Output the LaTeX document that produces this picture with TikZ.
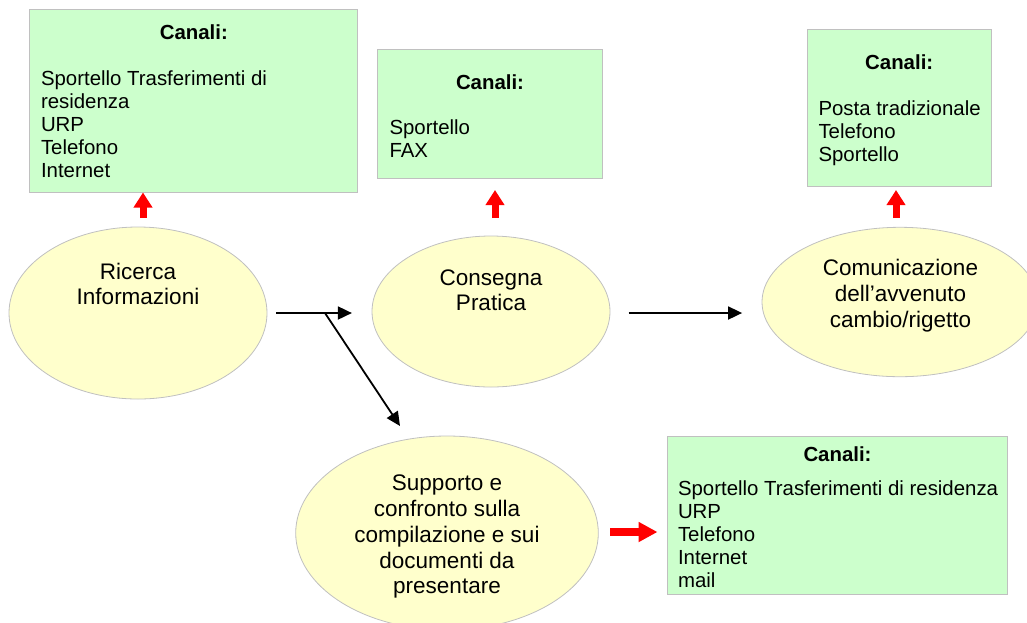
\documentclass[tikz,border=0pt]{standalone}
\usepackage{fontspec}
\setmainfont{Liberation Sans}
\usetikzlibrary{arrows.meta,shapes.geometric,calc}

\definecolor{boxgreen}{HTML}{CCFFCC}
\definecolor{phasefill}{HTML}{FFFFCC}
\definecolor{edgegray}{HTML}{C0C0C0}
\definecolor{flowred}{HTML}{FF0000}

% multi-line nodes are placed by the baseline of their last line
\tikzset{
  canalebox/.style={draw=edgegray, line width=1pt, fill=boxgreen, rectangle, inner sep=0pt},
  phase/.style={draw=edgegray, line width=0.8pt, fill=phasefill, ellipse, inner sep=0pt},
  phasetext/.style={anchor=base, align=center, inner sep=0pt,
    font=\fontsize{22.5}{25.7}\selectfont},
  boxtitle/.style={anchor=base, inner sep=0pt, font=\fontsize{20.4}{23}\selectfont\bfseries},
  boxlines/.style={anchor=base west, align=left, inner sep=0pt,
    font=\fontsize{20.4}{23}\selectfont},
  flow/.style={draw=black, line width=1.8pt, -{Triangle[length=14pt,width=13pt]}},
  redup/.style={draw=flowred, line width=7pt, -{Triangle[length=15pt,width=18pt]}},
  redright/.style={draw=flowred, line width=8pt, -{Triangle[length=19pt,width=19pt]}},
}

\begin{document}
\begin{tikzpicture}[x=1pt, y=-1pt]
\useasboundingbox (0,0) rectangle (1027,622);
\clip (0,0) rectangle (1027,622);

% channel boxes
\node[canalebox, minimum width=327.7pt, minimum height=183.3pt] (b1) at (193.8,100.7) {};
\node[canalebox, minimum width=225.4pt, minimum height=129.4pt] (b2) at (490,114) {};
\node[canalebox, minimum width=183.7pt, minimum height=157.4pt] (b3) at (899.2,108) {};
\node[canalebox, minimum width=340.4pt, minimum height=157.3pt] (b4) at (837.5,515.4) {};

\node[boxtitle] (t1) at (193.8,39) {Canali:};
\node[boxlines] (l1) at (40.8,177) {Sportello Trasferimenti di\\residenza\\URP\\Telefono\\Internet};
\node[boxtitle] (t2) at (490,89.7) {Canali:};
\node[boxlines] (l2) at (389.3,157) {Sportello\\FAX};
\node[boxtitle] (t3) at (899.2,69.7) {Canali:};
\node[boxlines] (l3) at (818.3,161) {Posta tradizionale\\Telefono\\Sportello};
\node[boxtitle] (t4) at (837.5,461.3) {Canali:};
\node[boxlines] (l4) at (677.8,587.7) {Sportello Trasferimenti di residenza\\URP\\Telefono\\Internet\\mail};

% process phases
\node[phase, minimum width=258pt, minimum height=172pt] (e1) at (138,313) {};
\node[phase, minimum width=238pt, minimum height=151pt] (e2) at (491,311.5) {};
\node[phase, minimum width=276pt, minimum height=149.4pt] (e3) at (900,302) {};
\node[phase, minimum width=302.6pt, minimum height=194pt] (e4) at (447,533) {};

\node[phasetext] (p1) at (138,304.7) {Ricerca\\Informazioni};
\node[phasetext] (p2) at (491,310.7) {Consegna\\Pratica};
\node[phasetext] (p3) at (900.5,327) {Comunicazione\\dell’avvenuto\\cambio/rigetto};
\node[phasetext] (p4) at (447,593.7) {Supporto e\\confronto sulla\\compilazione e sui\\documenti da\\presentare};

% sequence arrows
\draw[flow, shorten <=8.7pt, shorten >=19.7pt] (e1.east) -- (e1.east -| e2.west);
\draw[flow, shorten <=18.3pt, shorten >=19.5pt] (e2.east |- e1.east) -- (e1.east -| e3.west);
\coordinate (fork) at (325,313);
\coordinate (forkend) at (400,426);
\draw[flow] (fork) -- (forkend);

% channel arrows
\coordinate (r1a) at (143,218); \coordinate (r1b) at (143,192.5);
\coordinate (r2a) at (495,218); \coordinate (r2b) at (495,190);
\coordinate (r3a) at (896,218); \coordinate (r3b) at (896,190);
\coordinate (r4a) at (610,532); \coordinate (r4b) at (657.5,532);
\draw[redup] (r1a) -- (r1b);
\draw[redup] (r2a) -- (r2b);
\draw[redup] (r3a) -- (r3b);
\draw[redright] (r4a) -- (r4b);
\end{tikzpicture}
\end{document}
